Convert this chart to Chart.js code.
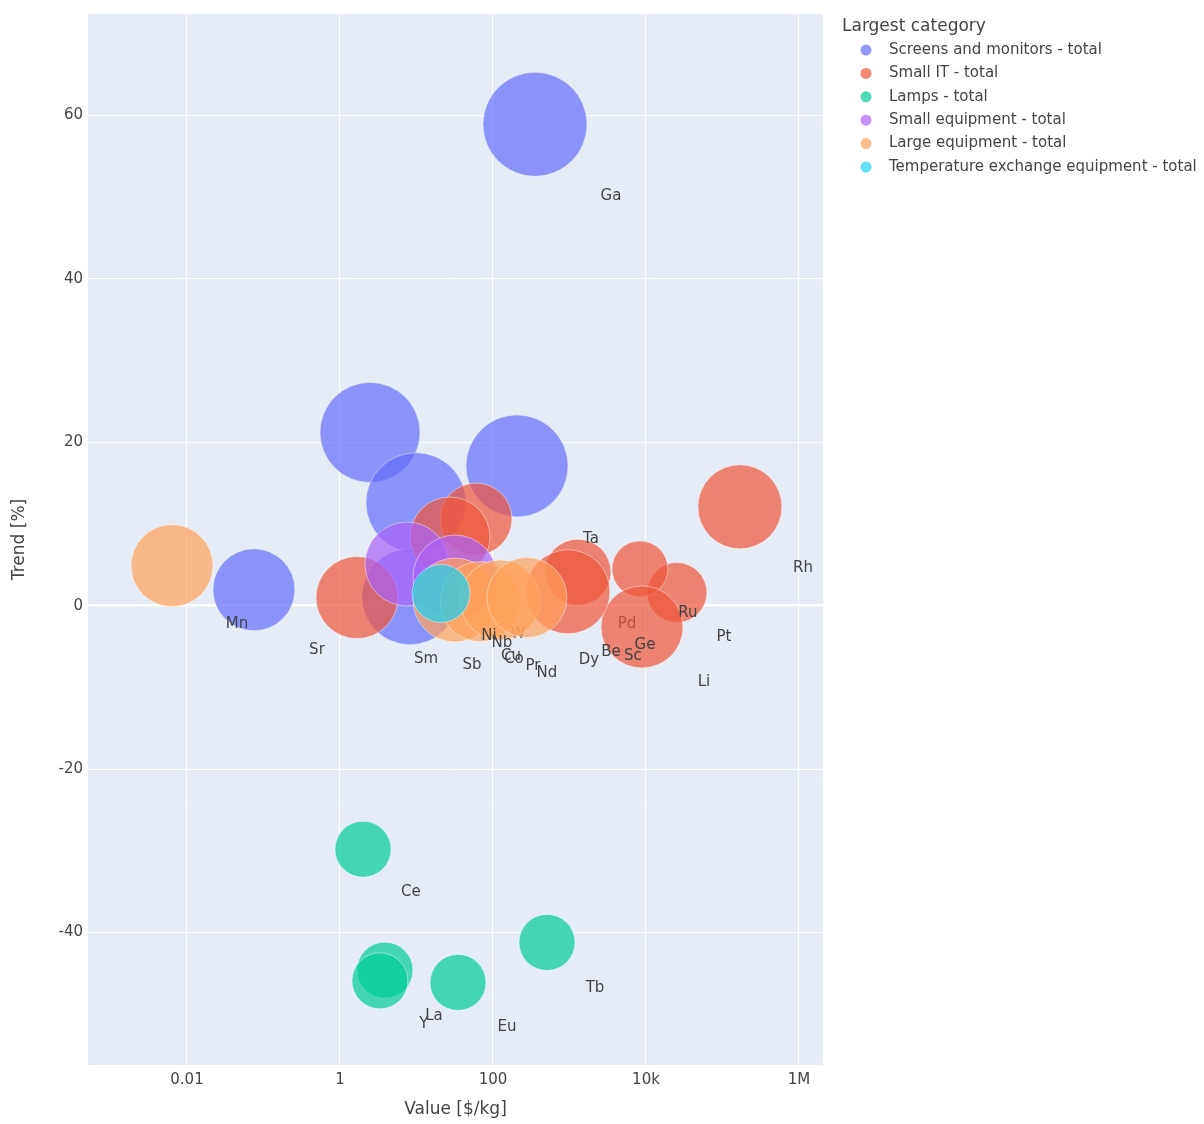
<!DOCTYPE html>
<html>
<head>
<meta charset="utf-8">
<script src="https://cdn.jsdelivr.net/npm/chart.js@4/dist/chart.umd.min.js"></script>
<style>
  html, body { margin: 0; padding: 0; background: #fff; }
  #wrap { width: 1204px; height: 1124px; }
</style>
</head>
<body>
<div id="wrap"><canvas id="c" width="1204" height="1124"></canvas></div>
<script>
// ---------- DATA ----------
const categories = [
  'Screens and monitors - total',
  'Small IT - total',
  'Lamps - total',
  'Small equipment - total',
  'Large equipment - total',
  'Temperature exchange equipment - total'
];

// Screens and monitors
const screensValue = [354, 2.47, 206, 9.85, 8.2, 0.075];
const screensTrend = [58.9, 21.2, 17.1, 12.6, 1.1, 1.95];
const screensSize  = [52, 50, 51, 50, 48, 41];

// Small IT
const smallItValue = [1.67, 169000, 25400, 8350, 8870, 1290, 956, 60, 27.4];
const smallItTrend = [1.0, 12.1, 1.6, 4.5, -2.6, 4.1, 1.7, 10.6, 8.4];
const smallItSize  = [41, 42, 30, 28, 41, 33, 42, 36, 40];

// Lamps
const lampsValue = [2.0, 3.87, 3.33, 34.9, 508];
const lampsTrend = [-29.8, -44.6, -45.9, -46.1, -41.2];
const lampsSize  = [28, 28, 28, 28, 28];

// Small equipment
const smallEqValue = [7.5, 31.9];
const smallEqTrend = [5.1, 3.5];
const smallEqSize  = [42, 42];

// Large equipment
const largeEqValue = [0.00637, 31.9, 67.6, 124, 278];
const largeEqTrend = [4.9, 0.7, 0.5, 0.7, 1.0];
const largeEqSize  = [41, 42, 40, 40, 40];

// Temperature exchange equipment
const tempEqValue = [20.9];
const tempEqTrend = [1.5];
const tempEqSize  = [29];

// Element labels
const labelNames  = ['Ga','Ta','Rh','Mn','Sr','Sm','Sb','Ni','Nb','W','Co','Cu','Pr','Nd','Dy','Be','Sc','Ge','Pd','Ru','Pt','Li','Ce','La','Y','Eu','Tb'];
const labelValues = [3487,1910,1128000,0.0451,0.50,13.3,53.1,88.7,131,212,188,172,333,508,1798,3487,6760,9700,5650,35400,104700,57300,8.47,16.9,12.5,152,2154];
const labelTrends = [50.1,8.2,4.6,-2.3,-5.4,-6.5,-7.3,-3.7,-4.6,-3.5,-6.5,-6.2,-7.4,-8.2,-6.6,-5.7,-6.2,-4.8,-2.2,-0.85,-3.8,-9.4,-35.1,-50.2,-51.2,-51.6,-46.8];
const labelsUnderBubbles = ['Pd','W'];

// Axis ticks
const xTickValues = [0.01, 1, 100, 10000, 1000000];
const xTickLabels = ['0.01', '1', '100', '10k', '1M'];
const yTickValues = [-40, -20, 0, 20, 40, 60];
const xRange = [Math.pow(10, -3.294), Math.pow(10, 6.314)];
const yRange = [-56.2, 72.4];

// ---------- STYLE ----------
const baseColors = ['99,110,250', '239,85,59', '0,204,150', '171,99,250', '255,161,90', '25,211,243'];
const FONT = "'DejaVu Sans', Verdana, sans-serif";
const TEXT = '#444';

const series = [
  [screensValue, screensTrend, screensSize],
  [smallItValue, smallItTrend, smallItSize],
  [lampsValue, lampsTrend, lampsSize],
  [smallEqValue, smallEqTrend, smallEqSize],
  [largeEqValue, largeEqTrend, largeEqSize],
  [tempEqValue, tempEqTrend, tempEqSize]
];

const datasets = series.map((s, i) => ({
  label: categories[i],
  data: s[0].map((v, j) => ({ x: v, y: s[1][j], r: s[2][j] })),
  backgroundColor: 'rgba(' + baseColors[i] + ',0.7)',
  borderColor: 'rgba(255,255,255,0.45)',
  borderWidth: 1,
  hoverRadius: 0,
  order: -i,
  clip: false
}));

function drawLabels(chart, under) {
  const ctx = chart.ctx;
  const xs = chart.scales.x, ys = chart.scales.y;
  ctx.save();
  ctx.font = '15px ' + FONT;
  ctx.fillStyle = TEXT;
  ctx.textAlign = 'center';
  ctx.textBaseline = 'middle';
  labelNames.forEach((n, i) => {
    if (labelsUnderBubbles.includes(n) !== under) return;
    ctx.fillText(n, xs.getPixelForValue(labelValues[i]), ys.getPixelForValue(labelTrends[i]));
  });
  ctx.restore();
}

const plotBg = {
  id: 'plotBg',
  beforeDraw(chart) {
    const a = chart.chartArea, ctx = chart.ctx;
    ctx.save();
    ctx.fillStyle = '#E5ECF6';
    ctx.fillRect(a.left, a.top, a.right - a.left, a.bottom - a.top);
    ctx.restore();
  },
  beforeDatasetsDraw(chart) { drawLabels(chart, true); },
  afterDatasetsDraw(chart) { drawLabels(chart, false); }
};

const legendPlugin = {
  id: 'sideLegend',
  afterDraw(chart) {
    const ctx = chart.ctx;
    const x0 = chart.chartArea.right + 19;
    ctx.save();
    ctx.fillStyle = TEXT;
    ctx.textAlign = 'left';
    ctx.textBaseline = 'middle';
    ctx.font = '17px ' + FONT;
    ctx.fillText('Largest category', x0, 27);
    ctx.font = '15px ' + FONT;
    categories.forEach((c, i) => {
      const y = 50 + i * 23.4;
      ctx.beginPath();
      ctx.arc(x0 + 24, y, 5.5, 0, Math.PI * 2);
      ctx.fillStyle = 'rgba(' + baseColors[i] + ',0.7)';
      ctx.fill();
      ctx.fillStyle = TEXT;
      ctx.fillText(c, x0 + 47, y);
    });
    ctx.restore();
  }
};

new Chart(document.getElementById('c'), {
  type: 'bubble',
  data: { datasets },
  options: {
    responsive: false,
    animation: false,
    devicePixelRatio: 1,
    layout: { autoPadding: false, padding: { top: 11, right: 381, left: 0, bottom: 0 } },
    events: [],
    scales: {
      x: {
        type: 'logarithmic',
        min: xRange[0],
        max: xRange[1],
        afterBuildTicks: s => { s.ticks = xTickValues.map(v => ({ value: v })); },
        afterFit: s => { s.height = 59; },
        ticks: {
          autoSkip: false, maxRotation: 0, padding: 6,
          color: TEXT, font: { family: FONT, size: 15 },
          callback: (v) => { const k = xTickValues.indexOf(v); return k >= 0 ? xTickLabels[k] : ''; }
        },
        grid: { color: '#ffffff', lineWidth: 1, drawTicks: false },
        border: { display: false },
        title: { display: true, text: 'Value [$/kg]', color: TEXT, font: { family: FONT, size: 17 }, padding: { top: 0, bottom: 4 } }
      },
      y: {
        type: 'linear',
        min: yRange[0],
        max: yRange[1],
        afterBuildTicks: s => { s.ticks = yTickValues.map(v => ({ value: v })); },
        afterFit: s => { s.width = 88; },
        ticks: { padding: 5, color: TEXT, font: { family: FONT, size: 15 } },
        grid: { color: '#ffffff', lineWidth: c => (c.tick && c.tick.value === 0 ? 2.5 : 1), drawTicks: false },
        border: { display: false },
        title: { display: true, text: 'Trend [%]', color: TEXT, font: { family: FONT, size: 17 }, padding: { top: 9, bottom: 0 } }
      }
    },
    plugins: { legend: { display: false }, tooltip: { enabled: false } }
  },
  plugins: [plotBg, legendPlugin]
});
</script>
</body>
</html>
